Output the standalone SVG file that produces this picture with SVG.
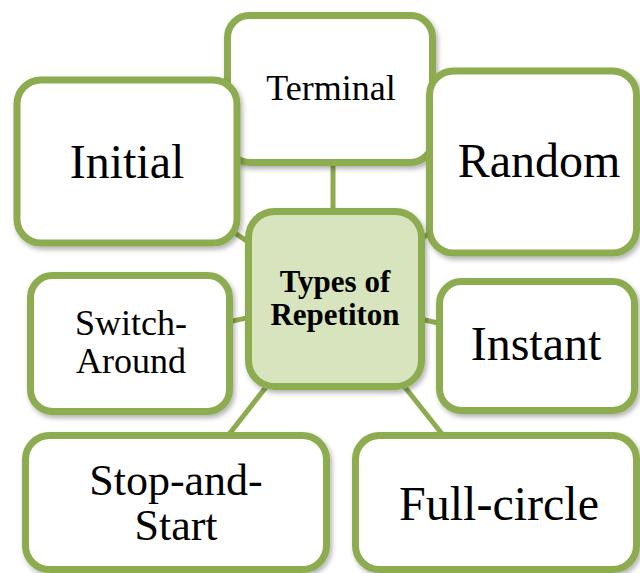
<svg xmlns="http://www.w3.org/2000/svg" width="640" height="573" viewBox="0 0 640 573">
<defs>
<filter id="sh" x="-10%" y="-10%" width="130%" height="130%">
<feDropShadow dx="2" dy="3" stdDeviation="2.5" flood-color="#000" flood-opacity="0.3"/>
</filter>
<style>
.box{fill:#fff;stroke:#8dab4f;stroke-width:7;filter:url(#sh)}
.ctr{fill:#d7e4bd;stroke:#8dab4f;stroke-width:7;filter:url(#sh)}
.con{stroke:#8dab4f;stroke-width:5;fill:none}
text{fill:#000;text-anchor:middle}
.b{font-weight:bold;font-size:31px}
</style>
</defs>
<rect width="640" height="573" fill="#fff"/>
<g id="connectors">
<line class="con" x1="333" y1="299" x2="333" y2="120"/>
<line class="con" x1="335" y1="299" x2="127" y2="162"/>
<line class="con" x1="335" y1="299" x2="533" y2="161"/>
<line class="con" x1="335" y1="299" x2="130" y2="343"/>
<line class="con" x1="335" y1="299" x2="536" y2="346"/>
<line class="con" x1="335" y1="299" x2="176" y2="502"/>
<line class="con" x1="335" y1="299" x2="496" y2="502"/>
</g>
<g font-family="Liberation Serif, Tinos, DejaVu Serif, serif">
<g id="terminal">
<rect class="box" x="227.5" y="15.5" width="205" height="147" rx="22"/>
<text x="331" y="100" font-size="36">Terminal</text>
</g>
<g id="initial">
<rect class="box" x="17" y="80" width="220" height="163" rx="24"/>
<text x="127" y="178" font-size="48">Initial</text>
</g>
<g id="random">
<rect class="box" x="429.5" y="71" width="207" height="182" rx="24"/>
<text x="539" y="177" font-size="48">Random</text>
</g>
<g id="switch-around">
<rect class="box" x="30.5" y="275.5" width="199" height="136" rx="22"/>
<text x="131" y="335" font-size="36">Switch-</text>
<text x="131" y="373" font-size="36">Around</text>
</g>
<g id="instant">
<rect class="box" x="439.5" y="281.5" width="195" height="129" rx="22"/>
<text x="536" y="360" font-size="48">Instant</text>
</g>
<g id="stop-and-start">
<rect class="box" x="25.5" y="435.5" width="301" height="134" rx="24"/>
<text x="176" y="495" font-size="44">Stop-and-</text>
<text x="176" y="540" font-size="44">Start</text>
</g>
<g id="full-circle">
<rect class="box" x="355.5" y="435.5" width="281" height="134" rx="24"/>
<text x="499" y="520" font-size="48">Full-circle</text>
</g>
<g id="center">
<rect class="ctr" x="248.5" y="211.5" width="173" height="175" rx="26"/>
<text class="b" x="335" y="292">Types of</text>
<text class="b" x="335" y="325">Repetiton</text>
</g>
</g>
</svg>
